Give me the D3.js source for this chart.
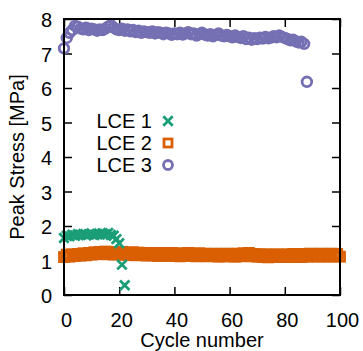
<!DOCTYPE html>
<html>
<head>
<meta charset="utf-8">
<script src="https://cdn.jsdelivr.net/npm/d3@7"></script>
<style>
  body { margin: 0; background: #fff; }
  text { font-family: "Liberation Sans", Arial, sans-serif; }
</style>
</head>
<body>
<div id="chart"></div>
<script>
// data (cycle index = position in array)
var lce1 = [1.65, 1.72, 1.70, 1.75, 1.72, 1.76, 1.74, 1.77, 1.73, 1.76,
  1.78, 1.74, 1.77, 1.75, 1.79, 1.76, 1.80, 1.74, 1.72, 1.62,
  1.50, 0.88, 0.28];

var lce2 = [1.10, 1.17, 1.11, 1.18, 1.13, 1.19, 1.14, 1.21, 1.15, 1.22,
  1.17, 1.24, 1.18, 1.25, 1.19, 1.26, 1.18, 1.25, 1.17, 1.24,
  1.18, 1.25, 1.16, 1.23, 1.17, 1.24, 1.15, 1.23, 1.16, 1.22,
  1.14, 1.22, 1.15, 1.21, 1.13, 1.22, 1.15, 1.21, 1.13, 1.22,
  1.14, 1.21, 1.12, 1.20, 1.14, 1.22, 1.13, 1.20, 1.12, 1.21,
  1.13, 1.20, 1.12, 1.19, 1.13, 1.20, 1.11, 1.19, 1.12, 1.20,
  1.12, 1.19, 1.11, 1.20, 1.12, 1.21, 1.13, 1.22, 1.12, 1.19,
  1.11, 1.18, 1.10, 1.18, 1.09, 1.17, 1.11, 1.18, 1.10, 1.17,
  1.11, 1.18, 1.10, 1.19, 1.11, 1.18, 1.10, 1.19, 1.11, 1.20,
  1.12, 1.19, 1.11, 1.20, 1.12, 1.19, 1.11, 1.20, 1.12, 1.19, 1.11];

var lce3 = [7.15, 7.45, 7.60, 7.68, 7.80, 7.78, 7.72, 7.70, 7.75, 7.68,
  7.72, 7.70, 7.66, 7.70, 7.68, 7.72, 7.78, 7.82, 7.75, 7.70,
  7.68, 7.72, 7.66, 7.70, 7.64, 7.68, 7.62, 7.66, 7.60, 7.64,
  7.62, 7.60, 7.64, 7.58, 7.62, 7.60, 7.56, 7.60, 7.58, 7.54,
  7.58, 7.56, 7.60, 7.55, 7.58, 7.62, 7.56, 7.58, 7.52, 7.56,
  7.60, 7.55, 7.52, 7.56, 7.50, 7.54, 7.58, 7.52, 7.50, 7.54,
  7.50, 7.47, 7.52, 7.48, 7.45, 7.50, 7.42, 7.46, 7.40, 7.44,
  7.42, 7.46, 7.43, 7.48, 7.44, 7.46, 7.50, 7.47, 7.52, 7.48,
  7.45, 7.42, 7.38, 7.40, 7.35, 7.32, 7.34, 7.28, 6.18];

var seriesNames = ["LCE 1", "LCE 2", "LCE 3"];
var colors = ["#1b9e77", "#d95f02", "#7570b3"];
var xTicks = [0, 20, 40, 60, 80, 100];
var yTicks = [0, 1, 2, 3, 4, 5, 6, 7, 8];

var svgWidth = 363;
var svgHeight = 351;
var margin = { top: 19, right: 23, bottom: 56, left: 64 };
var width = svgWidth - margin.left - margin.right;
var height = svgHeight - margin.top - margin.bottom;

var svg = d3.select("#chart")
  .append("svg")
  .attr("width", svgWidth)
  .attr("height", svgHeight);

var chartGroup = svg.append("g")
  .attr("transform", `translate(${margin.left}, ${margin.top})`);

var xScale = d3.scaleLinear().domain([0, 100]).range([0, width]);
var yScale = d3.scaleLinear().domain([0, 8]).range([height, 0]);

// axes with inward ticks, mirrored on top and right
function styleAxis(g) {
  g.select(".domain").remove();
  g.selectAll("line").attr("stroke", "#000").attr("stroke-width", 1.5);
  g.selectAll("text").attr("font-size", 20).attr("fill", "#000");
}

chartGroup.append("g")
  .attr("transform", `translate(0, ${height})`)
  .call(d3.axisBottom(xScale).tickValues(xTicks).tickSize(-8).tickPadding(18))
  .call(styleAxis)
  .selectAll("text").attr("dx", 2);

chartGroup.append("g")
  .call(d3.axisTop(xScale).tickValues(xTicks).tickSize(-8).tickFormat(""))
  .call(styleAxis);

chartGroup.append("g")
  .call(d3.axisLeft(yScale).tickValues(yTicks).tickSize(-8).tickPadding(12))
  .call(styleAxis)
  .selectAll("text").attr("dy", "0.38em");

chartGroup.append("g")
  .attr("transform", `translate(${width}, 0)`)
  .call(d3.axisRight(yScale).tickValues(yTicks).tickSize(-8).tickFormat(""))
  .call(styleAxis);

// LCE 2 squares
chartGroup.append("g").selectAll("rect")
  .data(lce2)
  .enter()
  .append("rect")
  .attr("x", (d, i) => xScale(i) - 4.5)
  .attr("y", d => yScale(d) - 4.5)
  .attr("width", 9)
  .attr("height", 9)
  .attr("fill", "none")
  .attr("stroke", colors[1])
  .attr("stroke-width", 2.8);

// LCE 1 crosses
var cross = d3.symbol().type(d3.symbolX).size(60);
chartGroup.append("g").selectAll("path")
  .data(lce1)
  .enter()
  .append("path")
  .attr("transform", (d, i) => `translate(${xScale(i)}, ${yScale(d)})`)
  .attr("d", cross)
  .attr("fill", "none")
  .attr("stroke", colors[0])
  .attr("stroke-width", 2.8);

// LCE 3 circles
chartGroup.append("g").selectAll("circle")
  .data(lce3)
  .enter()
  .append("circle")
  .attr("cx", (d, i) => xScale(i))
  .attr("cy", d => yScale(d))
  .attr("r", 4.8)
  .attr("fill", "none")
  .attr("stroke", colors[2])
  .attr("stroke-width", 2.8);

// frame
chartGroup.append("rect")
  .attr("width", width)
  .attr("height", height)
  .attr("fill", "none")
  .attr("stroke", "#000")
  .attr("stroke-width", 2);

// legend
var legend = svg.append("g");
seriesNames.forEach(function(name, i) {
  var y = 121 + i * 22;
  legend.append("text")
    .attr("x", 152)
    .attr("y", y)
    .attr("dy", "0.35em")
    .attr("text-anchor", "end")
    .attr("font-size", 20)
    .text(name);
  if (i === 0) {
    legend.append("path")
      .attr("transform", `translate(168, ${y})`)
      .attr("d", cross)
      .attr("fill", "none")
      .attr("stroke", colors[0])
      .attr("stroke-width", 2.8);
  } else if (i === 1) {
    legend.append("rect")
      .attr("x", 164).attr("y", y - 4)
      .attr("width", 8).attr("height", 8)
      .attr("fill", "none")
      .attr("stroke", colors[1])
      .attr("stroke-width", 2.8);
  } else {
    legend.append("circle")
      .attr("cx", 168).attr("cy", y)
      .attr("r", 4.5)
      .attr("fill", "none")
      .attr("stroke", colors[2])
      .attr("stroke-width", 2.8);
  }
});

// axis titles
svg.append("text")
  .attr("x", margin.left + width / 2)
  .attr("y", 347)
  .attr("text-anchor", "middle")
  .attr("font-size", 20)
  .text("Cycle number");

svg.append("text")
  .attr("transform", `translate(24, ${margin.top + height / 2}) rotate(-90)`)
  .attr("text-anchor", "middle")
  .attr("font-size", 20)
  .text("Peak Stress [MPa]");
</script>
</body>
</html>
